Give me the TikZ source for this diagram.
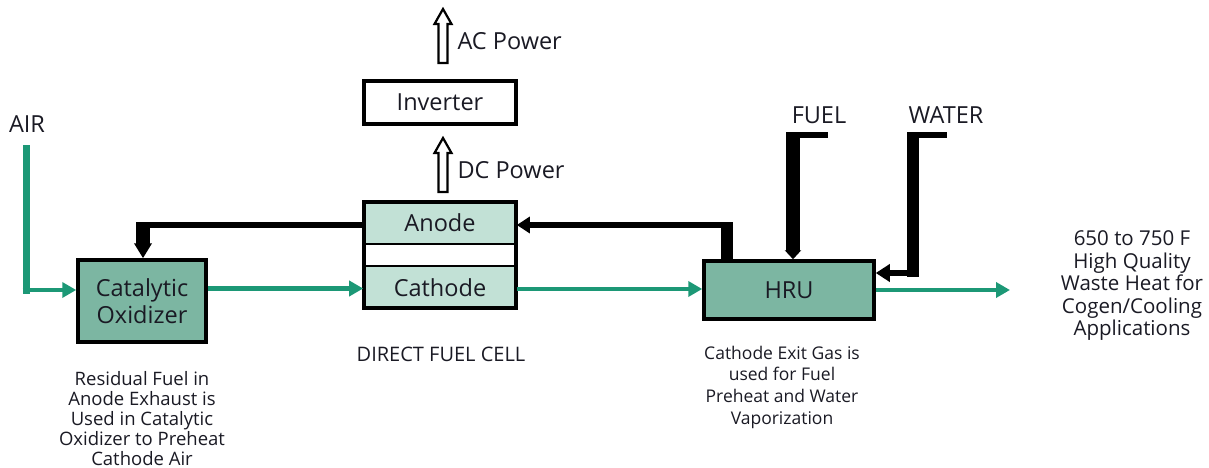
\documentclass[tikz,border=0pt]{standalone}
\usepackage{fontspec}
\setmainfont{Open Sans}
\usetikzlibrary{arrows.meta}
\definecolor{boxdark}{RGB}{124,182,162}
\definecolor{boxlight}{RGB}{194,225,214}
\definecolor{flow}{RGB}{28,152,118}
\definecolor{ink}{RGB}{26,26,36}
\newcommand\hollowup[3]{%
  \draw[line width=2.2, fill=white] (#1-4.5,#2) -- (#1-4.5,#3+15) -- (#1-8.5,#3+15) -- (#1,#3)
    -- (#1+8.5,#3+15) -- (#1+4.5,#3+15) -- (#1+4.5,#2) -- cycle;}
\begin{document}
\begin{tikzpicture}[x=1pt,y=-1pt,
  every node/.style={text=ink},
  lbl/.style={font=\fontsize{23.5}{26.5}\selectfont},
  captext/.style={font=\fontsize{18.5}{20}\selectfont, align=center},
  bigbox/.style={draw=black, line width=3.5, align=center, inner sep=0pt, lbl},
  cellpart/.style={draw=black, line width=1.6, fill=boxlight, inner sep=0pt, lbl},
  flowline/.style={draw=flow, line width=4.2, -{Triangle[length=14pt,width=15pt]}},
  pipethin/.style={draw=black, line width=6, line cap=butt},
  pipethick/.style={draw=black, line width=13, line cap=butt},
]
\useasboundingbox (0,0) rectangle (1209,468);

% boxes
\node[bigbox, fill=boxdark, minimum width=128, minimum height=82] (cat) at (142,301) {Catalytic\\Oxidizer};
\node[cellpart, minimum width=152, minimum height=43] (anode) at (440,222.5) {Anode};
\node[cellpart, minimum width=152, minimum height=43] (cathode) at (440,287.5) {Cathode};
\node[draw=black, line width=3.5, minimum width=152, minimum height=106, inner sep=0pt] (fc) at (440,255) {};
\node[bigbox, fill=white, minimum width=152, minimum height=43] (inv) at (440,102.5) {Inverter};
\node[bigbox, fill=boxdark, minimum width=170, minimum height=58] (hru) at (789,290) {HRU};

% power arrows
\hollowup{443}{63}{9}
\hollowup{443}{192}{138}
\node[lbl, anchor=west] (ac) at (454,41) {AC Power};
\node[lbl, anchor=west] (dc) at (454,170) {DC Power};

% labels
\node[lbl] (air) at (27,124) {AIR};
\node[lbl] (fuel) at (819,115) {FUEL};
\node[lbl] (water) at (946,115) {WATER};
\node[lbl, font=\fontsize{20}{22}\selectfont] (dfc) at (441,354) {DIRECT FUEL CELL};
\node[captext] (capcat) at (142,419) {Residual Fuel in\\Anode Exhaust is\\Used in Catalytic\\Oxidizer to Preheat\\Cathode Air};
\node[captext, font=\fontsize{17.5}{21.7}\selectfont] (caphru) at (782,387) {Cathode Exit Gas is\\used for Fuel\\Preheat and Water\\Vaporization};
\node[align=center, font=\fontsize{20.5}{22.5}\selectfont] (heat) at (1132,286) {650 to 750 F\\High Quality\\Waste Heat for\\Cogen/Cooling\\Applications};

% green flows
\coordinate (airtop) at (26,145);
\draw[flow, line width=7, line cap=butt] (airtop) -- (26,293.5);
\draw[flowline] (22.5,290) -- (cat.west |- 0,290);
\draw[flowline] (cat.east |- 0,288.5) -- (cathode.west |- 0,288.5);
\draw[flowline] (cathode.east |- 0,289) -- (hru.west |- 0,289);
\coordinate (heatout) at (1010,290);
\draw[flowline] (hru.east |- 0,290) -- (heatout);

% anode exhaust to catalytic oxidizer
\draw[pipethin] (anode.west |- 0,225) -- (136.5,225);
\draw[pipethick, line width=14, -{Triangle[length=15pt,width=17pt]}] (143,222) -- (cat.north -| 143,0);

% HRU to anode
\draw[pipethick, line width=12] (hru.north -| 727,0) -- (727,222);
\draw[pipethin, -{Triangle[length=13pt,width=16pt]}] (733,225) -- (anode.east |- 0,225);

% fuel
\coordinate (fuelend) at (828,135);
\draw[pipethin] (786,135) -- (fuelend);
\draw[pipethick, line width=14, -{Triangle[length=9pt,width=16pt]}] (793,132) -- (hru.north -| 793,0);

% water
\coordinate (waterend) at (947,135);
\draw[pipethin] (907,135) -- (waterend);
\draw[pipethick, line width=12] (913,132) -- (913,277);
\draw[pipethin, -{Triangle[length=14pt,width=17pt]}] (919,273) -- (hru.east |- 0,273);
\end{tikzpicture}
\end{document}
